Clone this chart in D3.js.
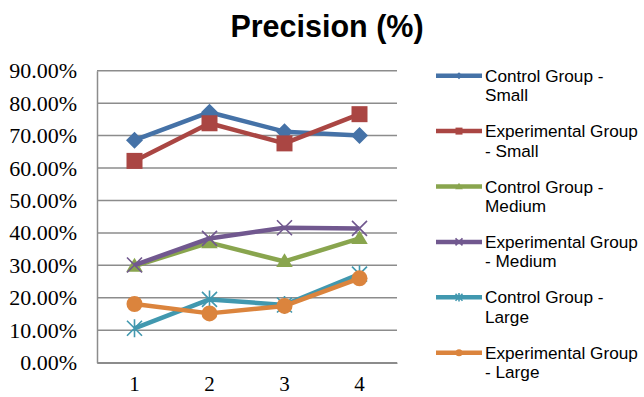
<!DOCTYPE html>
<html><head><meta charset="utf-8">
<script src="https://cdn.jsdelivr.net/npm/d3@7/dist/d3.min.js"></script>
<style>body{margin:0;background:#fff}svg{display:block}</style>
</head><body>
<svg id="c" width="644" height="397"></svg>
<script>
const categories = ["1","2","3","4"];
const seriesNames = ["Control Group - Small","Experimental Group - Small","Control Group - Medium","Experimental Group - Medium","Control Group - Large","Experimental Group - Large"];
const legendLines = [["Control Group -","Small"],["Experimental Group","- Small"],["Control Group -","Medium"],["Experimental Group","- Medium"],["Control Group -","Large"],["Experimental Group","- Large"]];
const controlSmall = [68.6, 77.2, 71.2, 70.0];
const expSmall = [62.2, 73.8, 67.6, 76.6];
const controlMedium = [29.8, 37.0, 31.2, 38.3];
const expMedium = [30.1, 38.3, 41.6, 41.4];
const controlLarge = [10.6, 19.5, 17.8, 27.3];
const expLarge = [18.1, 15.2, 17.5, 26.0];
const yTicks = [0,10,20,30,40,50,60,70,80,90];
const colors = ["#4572a7","#aa4643","#89a54e","#71588f","#4198af","#db843d"];
const markers = ["diamond","square","triangle","x","star","circle"];
const seriesValues = [controlSmall, expSmall, controlMedium, expMedium, controlLarge, expLarge];

const svg = d3.select("#c");
const L=97, R=397, T=70.7, B=362.7;
const x = d3.scaleBand().domain(categories).range([L,R]);
const y = d3.scaleLinear().domain([0,90]).range([B,T]);

svg.append("text").attr("x",327).attr("y",37).attr("text-anchor","middle")
  .attr("font-family","Liberation Sans, Arial, sans-serif").attr("font-weight","bold")
  .attr("font-size",30.5).attr("fill","#000").text("Precision (%)");

// gridlines
const grid = svg.append("g");
grid.selectAll("line").data(yTicks).join("line")
  .attr("x1",L).attr("x2",R).attr("y1",d=>y(d)).attr("y2",d=>y(d))
  .attr("stroke","#8c8c8c").attr("stroke-width",1.5);
// y axis
const yAxis = svg.append("g").attr("transform",`translate(${L},0)`)
  .call(d3.axisLeft(y).tickValues(yTicks).tickSize(0).tickPadding(20).tickFormat(d=>d.toFixed(2)+"%"));
yAxis.select(".domain").attr("stroke","#8c8c8c").attr("stroke-width",1.5);
yAxis.selectAll("text").attr("font-family","Liberation Serif, Times New Roman, serif").attr("font-size",22).attr("fill","#000");
// x axis
const xAxis = svg.append("g").attr("transform",`translate(0,${B})`)
  .call(d3.axisBottom(x).tickSize(0).tickPadding(13));
xAxis.select(".domain").attr("stroke","#8c8c8c").attr("stroke-width",1.5);
xAxis.selectAll("text").attr("font-family","Liberation Serif, Times New Roman, serif").attr("font-size",21).attr("fill","#000");

function drawMarker(g, type, color, s){
  if(type==="diamond"){
    g.append("path").attr("d",`M0,${-s}L${s},0L0,${s}L${-s},0Z`).attr("fill",color);
  } else if(type==="square"){
    g.append("rect").attr("x",-s).attr("y",-s).attr("width",2*s).attr("height",2*s).attr("fill",color);
  } else if(type==="triangle"){
    g.append("path").attr("d",`M0,${-s*1.1}L${s*1.1},${s*0.75}L${-s*1.1},${s*0.75}Z`).attr("fill",color);
  } else if(type==="x"){
    g.append("path").attr("d",`M${-s},${-s}L${s},${s}M${-s},${s}L${s},${-s}`).attr("stroke",color).attr("stroke-width",1.6);
  } else if(type==="star"){
    g.append("path").attr("d",`M${-s},${-s}L${s},${s}M${-s},${s}L${s},${-s}M0,${-s*1.2}L0,${s*1.2}`).attr("stroke",color).attr("stroke-width",1.6);
  } else if(type==="circle"){
    g.append("circle").attr("r",s).attr("fill",color);
  }
}
const mSize = {diamond:8.5, square:8, triangle:7.5, x:7.5, star:7.5, circle:8};
const line = d3.line().x((d,i)=>x(categories[i])+x.bandwidth()/2).y(d=>y(d));

seriesValues.forEach((vals,si)=>{
  const g = svg.append("g");
  g.append("path").attr("d",line(vals)).attr("fill","none").attr("stroke",colors[si])
    .attr("stroke-width",4.5).attr("stroke-linejoin","round");
  vals.forEach((v,i)=>{
    const mg = g.append("g").attr("transform",`translate(${x(categories[i])+x.bandwidth()/2},${y(v)})`);
    drawMarker(mg, markers[si], colors[si], mSize[markers[si]]);
  });
});

// legend
const lg = svg.append("g");
seriesNames.forEach((name,i)=>{
  const cy = 75.7 + i*55.4;
  const g = lg.append("g").attr("transform",`translate(0,${cy})`);
  g.append("line").attr("x1",436).attr("x2",482).attr("y1",0).attr("y2",0)
    .attr("stroke",colors[i]).attr("stroke-width",4.5);
  const mg = g.append("g").attr("transform","translate(459,0)");
  drawMarker(mg, markers[i], colors[i], 3.5);
  const t = g.append("text").attr("font-family","Liberation Sans, Arial, sans-serif").attr("font-size",17.2).attr("fill","#000");
  legendLines[i].forEach((ln,k)=>{
    t.append("tspan").attr("x",485).attr("y",6+k*19.5).text(ln);
  });
});
</script>
</body></html>
